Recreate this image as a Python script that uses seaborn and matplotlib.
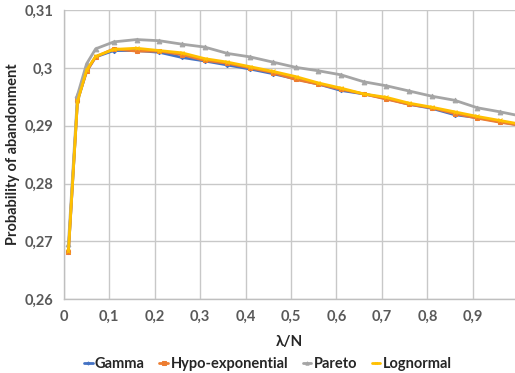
import numpy as np
import pandas as pd
import matplotlib
matplotlib.use("Agg")
import matplotlib.pyplot as plt
import seaborn as sns
from matplotlib.ticker import MultipleLocator, FuncFormatter

# data
lam = [0.01, 0.03, 0.05, 0.07, 0.11, 0.16, 0.21, 0.26, 0.31, 0.36, 0.41, 0.46,
       0.51, 0.56, 0.61, 0.66, 0.71, 0.76, 0.81, 0.86, 0.91, 0.96, 1.01]
gamma = [0.2681, 0.2943, 0.2994, 0.3019, 0.3030, 0.3030, 0.3027, 0.3018, 0.3012, 0.3005, 0.2998, 0.2990,
         0.2981, 0.2972, 0.2961, 0.2955, 0.2947, 0.2937, 0.2930, 0.2919, 0.2914, 0.2907, 0.2900]
hypo = [0.2681, 0.2944, 0.2994, 0.3019, 0.3033, 0.3029, 0.3029, 0.3023, 0.3013, 0.3008, 0.3000, 0.2992,
        0.2980, 0.2972, 0.2963, 0.2955, 0.2946, 0.2937, 0.2931, 0.2921, 0.2913, 0.2906, 0.2900]
pareto = [0.2695, 0.2953, 0.3007, 0.3033, 0.3045, 0.3049, 0.3047, 0.3041, 0.3036, 0.3025, 0.3019, 0.3010,
          0.3001, 0.2995, 0.2988, 0.2976, 0.2969, 0.2960, 0.2951, 0.2944, 0.2931, 0.2924, 0.2916]
lognormal = [0.2683, 0.2942, 0.2996, 0.3020, 0.3032, 0.3034, 0.3030, 0.3026, 0.3016, 0.3010, 0.3002, 0.2994,
             0.2985, 0.2974, 0.2965, 0.2955, 0.2949, 0.2939, 0.2932, 0.2924, 0.2916, 0.2909, 0.2902]

series = {"Gamma": gamma, "Hypo-exponential": hypo, "Pareto": pareto, "Lognormal": lognormal}
colors = {"Gamma": "#4472C4", "Hypo-exponential": "#ED7D31", "Pareto": "#A5A5A5", "Lognormal": "#FFC000"}
markers = {"Gamma": "D", "Hypo-exponential": "s", "Pareto": "^", "Lognormal": "x"}
msizes = {"Gamma": 2.2, "Hypo-exponential": 3.4, "Pareto": 3.4, "Lognormal": 2.5}

sns.set_style("white")
plt.rcParams["font.family"] = ["Lato", "DejaVu Sans"]

fig = plt.figure(figsize=(5.15, 3.73), dpi=100)
ax = fig.add_axes([0.124, 0.198, 0.876, 0.775])

for name, vals in series.items():
    df = pd.DataFrame({"x": lam, "y": vals})
    sns.lineplot(data=df, x="x", y="y", ax=ax, color=colors[name], marker=markers[name],
                 markersize=msizes[name], markeredgecolor=colors[name], linewidth=2,
                 label=name)

ax.set_xlim(0, 0.993)
ax.set_ylim(0.26, 0.31)
ax.xaxis.set_major_locator(MultipleLocator(0.1))
ax.xaxis.set_minor_locator(MultipleLocator(0.01))
ax.yaxis.set_major_locator(MultipleLocator(0.01))
ax.yaxis.set_minor_locator(MultipleLocator(0.002))


def comma(v, pos):
    s = f"{v:.2f}".rstrip("0").rstrip(".")
    return s.replace(".", ",")


ax.xaxis.set_major_formatter(FuncFormatter(comma))
ax.yaxis.set_major_formatter(FuncFormatter(comma))

ax.grid(True, which="major", color="#c8c8c8", linewidth=1)
for s in ["top", "right"]:
    ax.spines[s].set_visible(False)
for s in ["left", "bottom"]:
    ax.spines[s].set_color("#bfbfbf")
    ax.spines[s].set_linewidth(1)

ax.tick_params(axis="both", which="major", labelsize=10.5, labelcolor="#595959",
               length=4, color="#bfbfbf", direction="out")
ax.tick_params(axis="both", which="minor", length=3, color="#bfbfbf", direction="out")
ax.tick_params(axis="x", which="both", direction="in", pad=8)
for lbl in ax.get_xticklabels() + ax.get_yticklabels():
    lbl.set_fontweight("bold")

ax.set_xlabel("λ/N", fontsize=11, fontweight="bold", labelpad=8)
ax.set_ylabel("Probability of abandonment", fontsize=10.5, fontweight="bold", labelpad=3)

ax.get_legend().remove()
handles, labels = ax.get_legend_handles_labels()
fig.legend(handles, labels, loc="lower center", ncol=4, frameon=False,
           bbox_to_anchor=(0.52, -0.03), handlelength=0.6, markerscale=0.7,
           handletextpad=0.15, columnspacing=1.0, prop={"weight": "bold", "size": 10.5})

fig.savefig("out.png", dpi=100)
